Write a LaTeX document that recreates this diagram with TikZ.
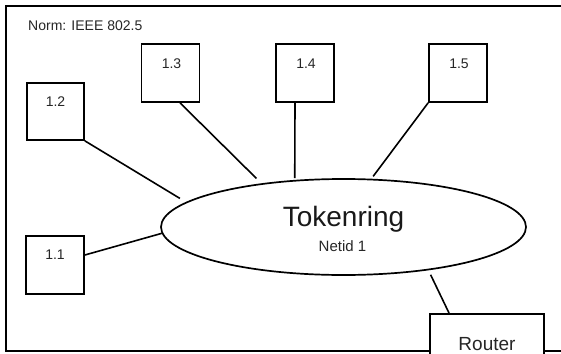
\documentclass[tikz,border=0pt]{standalone}
\usepackage{fontspec}
\setmainfont{Liberation Sans}
\usetikzlibrary{shapes.geometric}
\begin{document}
\begin{tikzpicture}[x=1pt,y=-1pt,
  frameline/.style={line width=1.8pt},
  hostbox/.style={draw,line width=1.7pt,minimum width=58pt,minimum height=58pt,inner sep=0pt},
  hostlabel/.style={anchor=base,inner sep=0pt,font=\fontsize{14}{16}\selectfont,text=black!85},
  link/.style={line width=1.6pt},
  ringshape/.style={draw,ellipse,line width=1.7pt,minimum width=365pt,minimum height=96pt,inner sep=0pt}]
\useasboundingbox (0,0) rectangle (561,353);
\clip (0,0) rectangle (561,353);

% network frame: open on the right, running past the page edge
\draw[frameline] (600,6) -- (6,6) -- (6,351) -- (600,351);
\node[anchor=base west,inner sep=0pt,font=\fontsize{14}{16}\selectfont,text=black!85] (norm) at (28,30.5) {Norm: IEEE 802.5};

% the ring
\node[ringshape] (ring) at (343.5,227) {};
\node[anchor=base,inner sep=0pt,font=\fontsize{28}{32}\selectfont,text=black!90] (ringname) at (343.5,226.7) {Tokenring};
\node[anchor=base,inner sep=0pt,font=\fontsize{15}{17}\selectfont,text=black!85] (netid) at (342.5,251) {Netid 1};

% hosts
\node[hostbox] (b11) at (55,265) {};
\node[hostbox,minimum width=57pt,minimum height=57pt] (b12) at (55.5,111.5) {};
\node[hostbox] (b13) at (170.5,73) {};
\node[hostbox] (b14) at (305,73) {};
\node[hostbox] (b15) at (458,73) {};
\node[hostlabel] (t11) at ([yshift=-24.7pt]b11.north) {1.1};
\node[hostlabel] (t12) at ([yshift=-24pt]b12.north) {1.2};
\node[hostlabel] (t13) at ([xshift=1pt,yshift=-25.3pt]b13.north) {1.3};
\node[hostlabel] (t14) at ([xshift=1pt,yshift=-25.3pt]b14.north) {1.4};
\node[hostlabel] (t15) at ([xshift=1pt,yshift=-25.3pt]b15.north) {1.5};

% router, sitting on the lower frame edge
\node[draw,fill=white,line width=1.7pt,minimum width=114pt,minimum height=60pt,inner sep=0pt,anchor=north] (router) at (487,313) {};
\node[anchor=base,inner sep=0pt,font=\fontsize{19}{22}\selectfont,text=black!85] (routername) at (487,350.5) {Router};

% attachments to the ring
\draw[link] ([yshift=10pt]b11.east) -- (ring.182.8);
\draw[link,shorten >=7pt] (b12.south east) -- (ring.171.2);
\draw[link,shorten >=7pt] ([xshift=9.5pt]b13.south) -- (ring.152.2);
\draw[link,shorten >=1.7pt] ([xshift=-10pt]b14.south) -- (ring.136.3);
\draw[link,shorten >=3pt] (b15.south west) -- (ring.60.8);
\draw[link,shorten <=5pt] (ring.333.2) -- ([xshift=-38pt]router.north);
\end{tikzpicture}
\end{document}
